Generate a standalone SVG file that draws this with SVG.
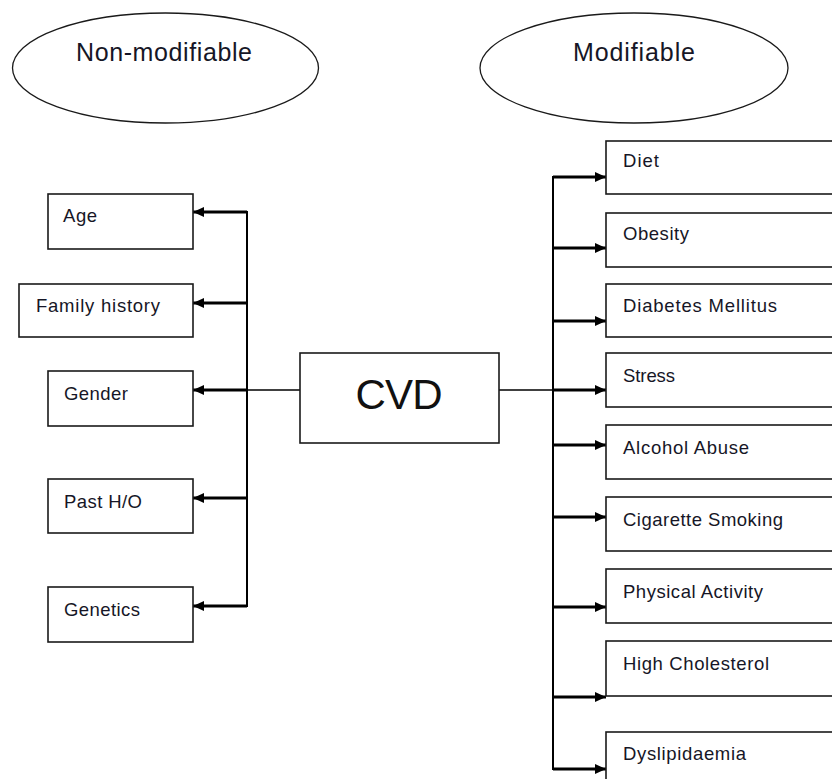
<svg xmlns="http://www.w3.org/2000/svg" width="832" height="779" viewBox="0 0 832 779">
<style>
.box{fill:#fff;stroke:#1a1a1a;stroke-width:1.6}
.ell{fill:#fff;stroke:#1a1a1a;stroke-width:1.3}
.lbl{font-family:"Liberation Sans",Arial,sans-serif;font-size:18.5px;fill:#161626}
.hd{font-family:"Liberation Sans",Arial,sans-serif;font-size:25px;fill:#161626;text-anchor:middle}
.cvd{font-family:"Liberation Sans",Arial,sans-serif;font-size:42px;fill:#111;text-anchor:middle}
.arr{stroke:#000;stroke-width:2.8;fill:none;marker-end:url(#ah)}
.ln{stroke:#000;stroke-width:1.4;fill:none}
.vl{stroke:#000;stroke-width:2;fill:none}
</style>
<defs>
<marker id="ah" viewBox="0 0 10 10" refX="10" refY="5" markerWidth="11" markerHeight="11" markerUnits="userSpaceOnUse" orient="auto">
<path d="M0,0.5 L10,5 L0,9.5 z" fill="#000"/>
</marker>
</defs>
<rect width="832" height="779" fill="#fff"/>
<g id="non-modifiable"><ellipse class="ell" cx="165.5" cy="68" rx="153" ry="55"/><text class="hd" x="164" y="61" textLength="176">Non-modifiable</text></g>
<g id="modifiable"><ellipse class="ell" cx="634" cy="68" rx="154" ry="55"/><text class="hd" x="634" y="61" textLength="122">Modifiable</text></g>
<g id="connectors">
<line class="vl" x1="247" y1="211" x2="247" y2="607"/>
<line class="ln" x1="247" y1="390" x2="300" y2="390"/>
<line class="arr" x1="247" y1="212" x2="193" y2="212"/>
<line class="arr" x1="247" y1="303" x2="193" y2="303"/>
<line class="arr" x1="247" y1="390" x2="193" y2="390"/>
<line class="arr" x1="247" y1="498" x2="193" y2="498"/>
<line class="arr" x1="247" y1="606" x2="193" y2="606"/>
<line class="vl" x1="553" y1="176" x2="553" y2="770"/>
<line class="ln" x1="499" y1="390" x2="553" y2="390"/>
<line class="arr" x1="553" y1="177" x2="606" y2="177"/>
<line class="arr" x1="553" y1="248" x2="606" y2="248"/>
<line class="arr" x1="553" y1="321" x2="606" y2="321"/>
<line class="arr" x1="553" y1="390" x2="606" y2="390"/>
<line class="arr" x1="553" y1="445" x2="606" y2="445"/>
<line class="arr" x1="553" y1="517" x2="606" y2="517"/>
<line class="arr" x1="553" y1="607" x2="606" y2="607"/>
<line class="arr" x1="553" y1="697" x2="606" y2="697"/>
<line class="arr" x1="553" y1="769" x2="606" y2="769"/>
</g>
<g id="cvd"><rect class="box" x="300" y="353" width="199" height="90"/><text class="cvd" x="399" y="409" textLength="87">CVD</text></g>
<g id="age"><rect class="box" x="48" y="194" width="145" height="55"/><text class="lbl" x="63" y="222" textLength="34">Age</text></g>
<g id="family-history"><rect class="box" x="19" y="284" width="174" height="53"/><text class="lbl" x="36" y="312" textLength="124">Family history</text></g>
<g id="gender"><rect class="box" x="48" y="371" width="145" height="55"/><text class="lbl" x="64" y="400" textLength="64">Gender</text></g>
<g id="past-ho"><rect class="box" x="48" y="479" width="145" height="54"/><text class="lbl" x="64" y="508" textLength="78">Past H/O</text></g>
<g id="genetics"><rect class="box" x="48" y="587" width="145" height="55"/><text class="lbl" x="64" y="616" textLength="76">Genetics</text></g>
<g id="diet"><rect class="box" x="606" y="141" width="240" height="53"/><text class="lbl" x="623" y="167" textLength="36">Diet</text></g>
<g id="obesity"><rect class="box" x="606" y="213" width="240" height="54"/><text class="lbl" x="623" y="240" textLength="66">Obesity</text></g>
<g id="diabetes"><rect class="box" x="606" y="284" width="240" height="53"/><text class="lbl" x="623" y="312" textLength="154">Diabetes Mellitus</text></g>
<g id="stress"><rect class="box" x="606" y="353" width="240" height="54"/><text class="lbl" x="623" y="382" textLength="52">Stress</text></g>
<g id="alcohol"><rect class="box" x="606" y="425" width="240" height="54"/><text class="lbl" x="623" y="454" textLength="126">Alcohol Abuse</text></g>
<g id="smoking"><rect class="box" x="606" y="497" width="240" height="54"/><text class="lbl" x="623" y="526" textLength="160">Cigarette Smoking</text></g>
<g id="physical"><rect class="box" x="606" y="569" width="240" height="54"/><text class="lbl" x="623" y="598" textLength="140">Physical Activity</text></g>
<g id="cholesterol"><rect class="box" x="606" y="641" width="240" height="55"/><text class="lbl" x="623" y="670" textLength="146">High Cholesterol</text></g>
<g id="dyslipidaemia"><rect class="box" x="606" y="732" width="240" height="60"/><text class="lbl" x="623" y="760" textLength="123">Dyslipidaemia</text></g>
</svg>
